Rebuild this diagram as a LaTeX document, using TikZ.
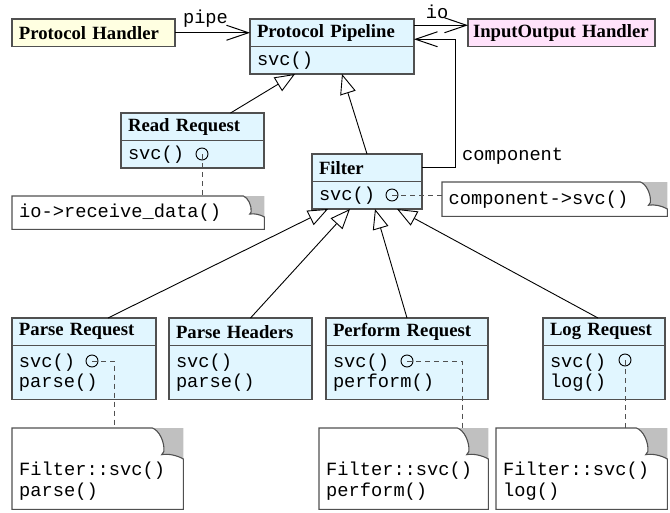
\documentclass[tikz,border=0pt]{standalone}
\usepackage{fontspec}
\setmainfont{Liberation Serif}
\setmonofont{Liberation Mono}
\usetikzlibrary{positioning,arrows.meta}

\definecolor{clsblue}{RGB}{225,246,255}
\definecolor{clsyellow}{RGB}{255,255,225}
\definecolor{clspink}{RGB}{255,226,250}
\definecolor{boxline}{RGB}{80,80,80}
\definecolor{earfill}{RGB}{192,192,192}

\newcommand{\headfont}{\fontsize{18.7}{20.5}\selectfont\bfseries}
\newcommand{\codefont}{\fontsize{18.7}{20.5}\selectfont\ttfamily}

% outline of a note with its folded corner
\newcommand{\notedogear}[2]{%
  \begin{scope}[shift={(#1.north east)},x=#2pt,y=#2pt]
    \fill[earfill] (-1,0) -- (0,0) -- (0,-1)
      .. controls (-0.2,-0.88) and (-0.5,-0.82) .. (-0.7,-0.86)
      -- (-0.63,-0.76)
      .. controls (-0.6,-0.45) and (-0.78,-0.08) .. (-1,0) -- cycle;
    \draw[boxline,line width=1.1pt] (#1.north west) -- (-1,0)
      .. controls (-0.78,-0.08) and (-0.6,-0.45) .. (-0.63,-0.76)
      -- (-0.7,-0.86)
      .. controls (-0.5,-0.82) and (-0.2,-0.88) .. (0,-1)
      -- (#1.south east) -- (#1.south west) -- cycle;
  \end{scope}}

\begin{document}
\begin{tikzpicture}[x=1pt,y=-1pt,
  clshead/.style={draw=boxline,line width=1.1pt,fill=clsblue,anchor=north west,outer sep=0pt,
    inner xsep=7pt,inner ysep=0pt,minimum height=27.5pt,text width=#1,align=left,font=\headfont},
  clsbody/.style={draw=boxline,line width=1.1pt,fill=clsblue,outer sep=0pt,
    inner xsep=7pt,inner ysep=0pt,minimum height=27.5pt,text width=#1,align=left,font=\codefont},
  notebox/.style={anchor=north west,inner xsep=7pt,inner ysep=0pt,text width=#1,align=left,font=\codefont},
  port/.style={circle,draw=black,line width=0.9pt,inner sep=0pt,minimum size=12pt},
  gen/.style={-{Triangle[fill=white,length=20pt,width=16pt]},line width=0.9pt},
  assoc/.style={-{Straight Barb[length=22pt,width=15pt,line width=1pt]},line width=0.9pt},
  notelink/.style={draw=boxline,line width=0.9pt,dash pattern=on 5pt off 4pt},
  conlabel/.style={font=\codefont,inner sep=0pt,anchor=base}]
\useasboundingbox (0,0) rectangle (670,512);

% top row
\node[clshead=149pt,fill=clsyellow] (phh) at (12,19) {Protocol Handler};
\node[clshead=150pt] (pph) at (250,19) {Protocol Pipeline};
\node[clsbody=150pt,below=0pt of pph] (ppb) {svc()};
\node[clshead=177pt,fill=clspink,inner xsep=5pt] (ioh) at (468,19) {InputOutput Handler};

% middle
\node[clshead=129pt] (rrh) at (121,113) {Read Request};
\node[clsbody=129pt,below=0pt of rrh] (rrb) {svc()};
\node[clshead=96pt] (fh) at (312,154) {Filter};
\node[clsbody=96pt,below=0pt of fh] (fb) {svc()};

% bottom row
\node[clshead=130pt] (prh) at (12,318) {Parse Request};
\node[clsbody=130pt,below=0pt of prh,minimum height=54pt] (prb) {svc()\\parse()};
\node[clshead=129pt] (phdh) at (169,318) {Parse Headers};
\node[clsbody=129pt,below=0pt of phdh,minimum height=54pt] (phdb) {svc()\\parse()};
\node[clshead=148pt] (pfh) at (326,318) {Perform Request};
\node[clsbody=148pt,below=0pt of pfh,minimum height=54pt] (pfb) {svc()\\perform()};
\node[clshead=108pt] (lrh) at (543,318) {Log Request};
\node[clsbody=108pt,below=0pt of lrh,minimum height=54pt] (lrb) {svc()\\log()};

% notes
\node[notebox=238pt,minimum height=33pt] (rdn) at (12,196) {io->receive\_data()};
\node[notebox=212pt,minimum height=34pt,inner xsep=6.5pt] (fln) at (442,182) {component->svc()};
\node[notebox=157pt,minimum height=81pt] (prn) at (12,428) {\mbox{}\\[18pt]Filter::svc()\\parse()};
\node[notebox=155pt,minimum height=81pt] (pfn) at (319,428) {\mbox{}\\[18pt]Filter::svc()\\perform()};
\node[notebox=157pt,minimum height=81pt] (lrn) at (496,428) {\mbox{}\\[18pt]Filter::svc()\\log()};
\notedogear{rdn}{21}
\notedogear{fln}{27}
\notedogear{prn}{31}
\notedogear{pfn}{31}
\notedogear{lrn}{31}

% ports
\node[port] (rrport) at (202,154) {};
\node[port] (fport) at (392,195) {};
\node[port] (prport) at (92,361) {};
\node[port] (pfport) at (407,361) {};
\node[port] (lrport) at (625,360) {};

\draw[notelink] (rrport.center) -- (rrport.center |- rdn.north);
\draw[notelink] (fport.center) -- (fport.center -| fln.west);
\draw[notelink] (prport.center) -| ([xshift=-69pt]prn.north east);
\draw[notelink] (pfport.center) -| ([xshift=-26pt]pfn.north east);
\draw[notelink] (lrport.center) -- (lrport.center |- lrn.north);

% associations
\draw[assoc] (phh) -- node[conlabel,xshift=-7pt,yshift=9pt] {pipe} (pph);
\draw[assoc] ([yshift=7.5pt]pph.east) -- node[conlabel,xshift=-4pt,yshift=7pt] {io} ([yshift=7.5pt]ioh.west);
\draw[assoc] (fh.east) -- ++(33,0) coordinate (cmpbend) |- ([yshift=-6.5pt]pph.east);
\node[conlabel,anchor=base west] (cmplabel) at ([xshift=7pt,yshift=7pt]cmpbend) {component};

% generalizations
\draw[gen] ([xshift=38pt]rrh.north) -- ([xshift=-37pt]ppb.south);
\draw[gen] (fh.north) -- ([xshift=10pt]ppb.south);
\draw[gen] ([xshift=24pt]prh.north) -- ([xshift=-39pt]fb.south);
\draw[gen] ([xshift=10pt]phdh.north) -- ([xshift=-17pt]fb.south);
\draw[gen] (pfh.north) -- ([xshift=8pt]fb.south);
\draw[gen] ([xshift=-6pt]lrh.north) -- ([xshift=30pt]fb.south);
\end{tikzpicture}
\end{document}
